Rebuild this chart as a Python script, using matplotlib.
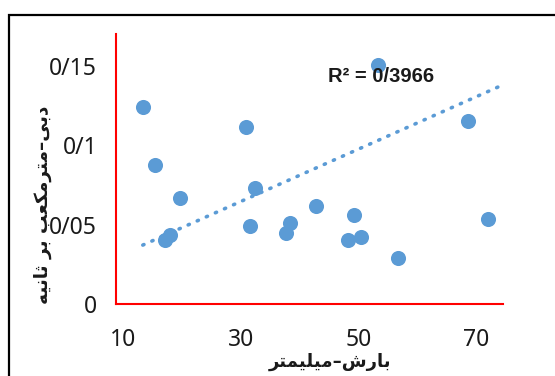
import matplotlib
matplotlib.use("Agg")
import matplotlib.pyplot as plt
from matplotlib.patches import Rectangle

# ---- data ----
rain_mm = [13.3, 15.3, 17.1, 17.9, 19.6, 30.8, 31.6, 32.4, 37.7, 38.4,
           42.8, 48.2, 49.3, 50.5, 53.4, 56.7, 68.6, 72.0]
discharge = [0.1239, 0.0875, 0.0406, 0.0435, 0.0670, 0.1113, 0.0492, 0.0730,
             0.0448, 0.0508, 0.0615, 0.0402, 0.0563, 0.0423, 0.1507, 0.0289,
             0.1155, 0.0538]
trend_x = [13.3, 74.6]
trend_y = [0.0371, 0.1380]
x_ticks = [10, 30, 50, 70]
y_ticks = [0, 0.05, 0.1, 0.15]
y_tick_labels = ["0", "0/05", "0/1", "0/15"]
x_label_text = "بارش–میلیمتر"
y_label_text = "دبی–مترمکعب بر ثانیه"
r2_text = "R² = 0/3966"

# ---- minimal Arabic/Persian shaping (presentation forms) + visual order ----
FORMS = {  # isolated, final, initial, medial
    'ا': ('\uFE8D', '\uFE8E', None, None),
    'ب': ('\uFE8F', '\uFE90', '\uFE91', '\uFE92'),
    'ت': ('\uFE95', '\uFE96', '\uFE97', '\uFE98'),
    'ث': ('\uFE99', '\uFE9A', '\uFE9B', '\uFE9C'),
    'د': ('\uFEA9', '\uFEAA', None, None),
    'ر': ('\uFEAD', '\uFEAE', None, None),
    'ش': ('\uFEB5', '\uFEB6', '\uFEB7', '\uFEB8'),
    'ع': ('\uFEC9', '\uFECA', '\uFECB', '\uFECC'),
    'ل': ('\uFEDD', '\uFEDE', '\uFEDF', '\uFEE0'),
    'م': ('\uFEE1', '\uFEE2', '\uFEE3', '\uFEE4'),
    'ن': ('\uFEE5', '\uFEE6', '\uFEE7', '\uFEE8'),
    'ه': ('\uFEE9', '\uFEEA', '\uFEEB', '\uFEEC'),
    'ی': ('\uFBFC', '\uFBFD', '\uFBFE', '\uFBFF'),
    'ک': ('\uFB8E', '\uFB8F', '\uFB90', '\uFB91'),
}


def shape(s):
    out = []
    for i, c in enumerate(s):
        if c not in FORMS:
            out.append(c)
            continue
        prev = s[i - 1] if i > 0 else None
        nxt = s[i + 1] if i + 1 < len(s) else None
        jp = prev in FORMS and FORMS[prev][2] is not None
        jn = FORMS[c][2] is not None and nxt in FORMS
        iso, fin, ini, med = FORMS[c]
        if jp and jn:
            out.append(med)
        elif jp:
            out.append(fin)
        elif jn:
            out.append(ini)
        else:
            out.append(iso)
    return ''.join(out)[::-1]


BLUE = "#5B9BD5"
NUM_FONT = ["Noto Sans", "DejaVu Sans"]

fig = plt.figure(figsize=(5.55, 3.76), dpi=100)
ax = fig.add_axes([116 / 555, 1 - 304 / 376, (503 - 116) / 555, (304 - 34) / 376])

ax.scatter(rain_mm, discharge, s=118, color=BLUE, zorder=3, linewidths=0)
ax.plot(trend_x, trend_y, color=BLUE, lw=2.6, linestyle=(0, (0.35, 2.4)),
        dash_capstyle="round", zorder=2)

ax.set_xlim(8.74, 74.6)
ax.set_ylim(0, 0.17)
ax.set_xticks(x_ticks)
ax.set_xticklabels([str(v) for v in x_ticks])
ax.set_yticks(y_ticks)
ax.set_yticklabels(y_tick_labels)
for lab in ax.get_xticklabels() + ax.get_yticklabels():
    lab.set_fontfamily(NUM_FONT)
    lab.set_fontsize(16.5)
    lab.set_color("#1a1a1a")
ax.tick_params(axis="both", length=0)
ax.tick_params(axis="y", pad=13.5)
ax.tick_params(axis="x", pad=17.5)

for sp in ["top", "right"]:
    ax.spines[sp].set_visible(False)
for sp in ["left", "bottom"]:
    ax.spines[sp].set_color("red")
    ax.spines[sp].set_linewidth(1.5)

ax.text(44.8, 0.1432, r2_text, fontfamily=["Liberation Sans", "DejaVu Sans"],
        fontweight="bold", fontsize=14.5, ha="left", va="center",
        color="#1a1a1a", zorder=4)

fig.text(330 / 555, 1 - 362 / 376, shape(x_label_text), fontfamily="DejaVu Sans",
         fontweight="bold", fontsize=13, ha="center", va="center", color="#1a1a1a")
fig.text(43 / 555, 1 - 205 / 376, shape(y_label_text), fontfamily="DejaVu Sans",
         fontweight="bold", fontsize=13.3, ha="center", va="center", rotation=90,
         color="#1a1a1a")

fig.patches.append(Rectangle((9 / 555, -0.2), 1.5, 1 - 15 / 376 + 0.2,
                             transform=fig.transFigure, fill=False,
                             edgecolor="black", lw=1.6))

fig.savefig("out.png", dpi=100)
